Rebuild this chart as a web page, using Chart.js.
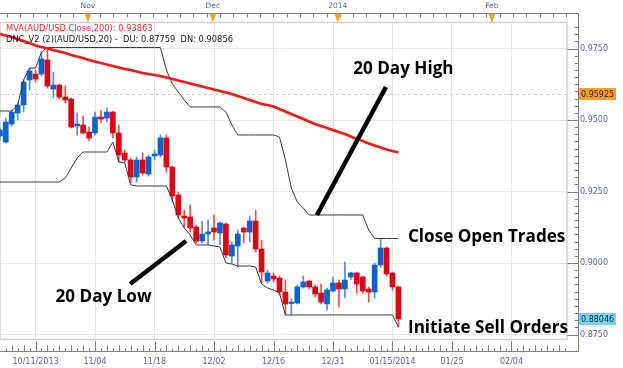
<!DOCTYPE html>
<html>
<head>
<meta charset="utf-8">
<script src="https://cdn.jsdelivr.net/npm/chart.js@4.4.1/dist/chart.umd.min.js"></script>
<style>
  html, body { margin: 0; padding: 0; background: #fff; }
  canvas { display: block; }
</style>
</head>
<body>
<canvas id="chart" width="623" height="368"></canvas>
<script>
// AUD/USD daily candles, Oct 2013 - Jan 2014. Index 0 sits on the "10/11/2013" gridline,
// the first candle (index -6) is cut by the left edge.
const firstIdx = -6;

const open = [
  0.94441, 0.94231, 0.94860, 0.95245, 0.95525, 0.96399, 0.96609, 0.96609, 0.97098, 0.96084,
  0.96224, 0.95804, 0.95735, 0.94790, 0.94825, 0.94581, 0.94546, 0.95105, 0.95070, 0.95280,
  0.94546, 0.93846, 0.93602, 0.93007, 0.93602, 0.93112, 0.93742, 0.93776, 0.94371, 0.93357,
  0.92378, 0.91644, 0.91609, 0.91259, 0.90769, 0.91014, 0.91224, 0.91049, 0.91364, 0.90245,
  0.90595, 0.91224, 0.91084, 0.91469, 0.90490, 0.89371, 0.89546, 0.89476, 0.88986, 0.88584,
  0.88602, 0.89161, 0.89371, 0.89161, 0.88951, 0.88567, 0.89021, 0.89301, 0.89091, 0.89511,
  0.89651, 0.89511, 0.89091, 0.88986, 0.89930, 0.90525, 0.89651, 0.89161
];
const high = [
  0.94755, 0.95070, 0.95350, 0.95595, 0.96399, 0.96818, 0.96748, 0.97378, 0.97535, 0.96678,
  0.96259, 0.96189, 0.95769, 0.95245, 0.95140, 0.94755, 0.95280, 0.95350, 0.95420, 0.95315,
  0.94825, 0.93951, 0.93672, 0.93707, 0.93846, 0.93776, 0.93951, 0.94476, 0.94476, 0.93380,
  0.92483, 0.91853, 0.92028, 0.91329, 0.91469, 0.91504, 0.91679, 0.91434, 0.91399, 0.90735,
  0.91154, 0.91259, 0.91644, 0.91853, 0.90804, 0.89755, 0.89651, 0.89546, 0.89406, 0.88742,
  0.89231, 0.89546, 0.89406, 0.89231, 0.89266, 0.89126, 0.89511, 0.89406, 0.90035, 0.89686,
  0.89686, 0.89546, 0.89161, 0.90000, 0.90856, 0.90560, 0.89686, 0.89196
];
const low = [
  0.94301, 0.94196, 0.94790, 0.95000, 0.95280, 0.96049, 0.96329, 0.96539, 0.96119, 0.95769,
  0.95735, 0.95595, 0.94720, 0.94476, 0.94511, 0.94266, 0.94476, 0.94895, 0.94930, 0.94371,
  0.93532, 0.93532, 0.92797, 0.92832, 0.93077, 0.93042, 0.93602, 0.93707, 0.93182, 0.92133,
  0.91574, 0.91259, 0.91084, 0.90700, 0.90700, 0.90630, 0.90804, 0.90630, 0.90175, 0.90000,
  0.89860, 0.90700, 0.90735, 0.90385, 0.89301, 0.89301, 0.89336, 0.88881, 0.88182, 0.88182,
  0.88567, 0.89126, 0.89091, 0.88811, 0.88567, 0.88357, 0.88986, 0.88462, 0.88776, 0.89406,
  0.88951, 0.88951, 0.88637, 0.88776, 0.89860, 0.89546, 0.89056, 0.87759
];
const close = [
  0.94651, 0.94930, 0.95280, 0.95525, 0.96329, 0.96713, 0.96434, 0.97133, 0.96189, 0.96224,
  0.95804, 0.95700, 0.94755, 0.94860, 0.94546, 0.94371, 0.95105, 0.95035, 0.95280, 0.94546,
  0.93776, 0.93602, 0.93007, 0.93602, 0.93147, 0.93707, 0.93811, 0.94371, 0.93357, 0.92343,
  0.91679, 0.91574, 0.91224, 0.90769, 0.91014, 0.91084, 0.91084, 0.91399, 0.90280, 0.90630,
  0.91014, 0.91084, 0.91469, 0.90490, 0.89686, 0.89651, 0.89441, 0.88986, 0.88567, 0.88637,
  0.89161, 0.89336, 0.89161, 0.88916, 0.88637, 0.89056, 0.89301, 0.89091, 0.89406, 0.89651,
  0.89266, 0.89021, 0.88986, 0.89930, 0.90525, 0.89616, 0.89161, 0.88046
];

// MVA(200) and Donchian channel (20)
const mva = [
  0.98007, 0.97955, 0.97902, 0.97832, 0.97762, 0.97693, 0.97605, 0.97553, 0.97500, 0.97448,
  0.97395, 0.97343, 0.97273, 0.97220, 0.97168, 0.97098, 0.97046, 0.96993, 0.96941, 0.96888,
  0.96836, 0.96783, 0.96748, 0.96696, 0.96644, 0.96609, 0.96574, 0.96539, 0.96486, 0.96434,
  0.96381, 0.96329, 0.96276, 0.96224, 0.96172, 0.96119, 0.96067, 0.96014, 0.95962, 0.95909,
  0.95839, 0.95769, 0.95700, 0.95630, 0.95560, 0.95525, 0.95472, 0.95385, 0.95297, 0.95210,
  0.95123, 0.95035, 0.94948, 0.94860, 0.94790, 0.94720, 0.94651, 0.94581, 0.94511, 0.94423,
  0.94336, 0.94266, 0.94179, 0.94109, 0.94039, 0.93969, 0.93916, 0.93863
];
const dncUpper = [
  0.95315, 0.95315, 0.95315, 0.95525, 0.96399, 0.96818, 0.96818, 0.97378, 0.97535, 0.97535,
  0.97535, 0.97535, 0.97535, 0.97535, 0.97535, 0.97535, 0.97535, 0.97535, 0.97535, 0.97535,
  0.97535, 0.97535, 0.97535, 0.97535, 0.97535, 0.97535, 0.97535, 0.97535, 0.96748, 0.96259,
  0.95979, 0.95700, 0.95455, 0.95455, 0.95455, 0.95455, 0.95455, 0.95455, 0.95280, 0.94825,
  0.94476, 0.94476, 0.94476, 0.94476, 0.94476, 0.94476, 0.94476, 0.94406, 0.93602, 0.92623,
  0.92133, 0.91923, 0.91679, 0.91679, 0.91679, 0.91679, 0.91679, 0.91679, 0.91679, 0.91679,
  0.91679, 0.91679, 0.91154, 0.90856, 0.90856, 0.90856, 0.90856, 0.90856
];
const dncLower = [
  0.92832, 0.92832, 0.92832, 0.92832, 0.92832, 0.92832, 0.92832, 0.92832, 0.92832, 0.92832,
  0.92832, 0.92972, 0.93322, 0.93672, 0.93881, 0.93881, 0.93881, 0.93881, 0.93881, 0.94231,
  0.93532, 0.93497, 0.92728, 0.92693, 0.92693, 0.92693, 0.92693, 0.92693, 0.92693, 0.92203,
  0.91574, 0.91224, 0.90979, 0.90630, 0.90630, 0.90630, 0.90595, 0.90560, 0.90000, 0.89965,
  0.89895, 0.89895, 0.89895, 0.89860, 0.89266, 0.89126, 0.89056, 0.88951, 0.88182, 0.88182,
  0.88182, 0.88182, 0.88182, 0.88182, 0.88182, 0.88182, 0.88182, 0.88182, 0.88182, 0.88182,
  0.88182, 0.88182, 0.88182, 0.88182, 0.88182, 0.88182, 0.88182, 0.87759
];

const xTickIdx = [0, 10, 20, 30, 40, 50, 60, 70, 80];
const xTickLabels = ['10/11/2013', '11/04', '11/18', '12/02', '12/16', '12/31', '01/15/2014', '01/25', '02/04'];
const monthIdx = [8.8, 29.8, 50.8, 76.7];
const monthLabels = ['Nov', 'Dec', '2014', 'Feb'];
const yTicks = [0.875, 0.9, 0.925, 0.95, 0.975];
const markerLevel = 0.95925;
const lastClose = 0.88046;

const legendMva = 'MVA(AUD/USD.Close,200): 0.93863';
const legendDnc = 'DNC_V2 (2)(AUD/USD,20) -  DU: 0.87759  DN: 0.90856';

// annotations, anchored in data units (candle index, price)
const notes = [
  { text: '20 Day High', x: 53.4, y: 0.96626, align: 'left' },
  { text: 'Close Open Trades', x: 62.6, y: 0.90735, align: 'left' },
  { text: 'Initiate Sell Orders', x: 62.6, y: 0.87553, align: 'left' },
  { text: '20 Day Low', x: 19.5, y: 0.88637, align: 'right' }
];
const pointers = [
  { from: [47.3, 0.91679], to: [58.9, 0.96154] },
  { from: [15.9, 0.89266], to: [25.3, 0.90769] }
];

const BLUE = '#0b62d0', RED = '#e3000f';
const BLUE_WICK = '#4d8fe0', RED_WICK = '#ef4b4b';
const AXIS_TEXT = '#5c5f9e';

const idx = open.map((_, i) => i + firstIdx);
const up = close.map((c, i) => c >= open[i]);

// keep the plot flush with the canvas edges: no label overflow padding
const noPad = s => { s.paddingLeft = 0; s.paddingRight = 0; s.paddingTop = 0; s.paddingBottom = 0; };

const decor = {
  id: 'decor',
  beforeDraw(chart) {
    const ctx = chart.ctx;
    ctx.save();
    ctx.fillStyle = '#fff';
    ctx.fillRect(0, 0, chart.width, chart.height);
    ctx.restore();
  },
  beforeDatasetsDraw(chart) {
    const { ctx, chartArea: a, scales: { y } } = chart;
    ctx.save();
    // frame around the plot
    ctx.strokeStyle = '#d2d2d2';
    ctx.lineWidth = 1.5;
    ctx.strokeRect(a.left, a.top + 0.5, a.right - a.left, a.bottom - a.top);
    // dashed level line
    const py = Math.round(y.getPixelForValue(markerLevel)) + 0.5;
    ctx.strokeStyle = '#cccccc';
    ctx.lineWidth = 1;
    ctx.setLineDash([3, 3]);
    ctx.beginPath();
    ctx.moveTo(a.left, py);
    ctx.lineTo(a.right, py);
    ctx.stroke();
    ctx.restore();
  },
  afterDraw(chart) {
    const { ctx, chartArea: a, scales: { x, y, xTop } } = chart;
    const axisX = a.right + 11.5, axisBottom = a.bottom + 12.5, axisTop = a.top - 8.5;
    ctx.save();
    ctx.strokeStyle = '#7d7d7d';
    ctx.lineWidth = 1;

    // axis lines
    ctx.beginPath();
    ctx.moveTo(0, axisTop); ctx.lineTo(axisX, axisTop);
    ctx.moveTo(0, axisBottom); ctx.lineTo(axisX, axisBottom);
    ctx.moveTo(axisX, axisTop); ctx.lineTo(axisX, axisBottom);
    ctx.stroke();

    // bottom ticks, one per candle
    ctx.beginPath();
    for (let v = Math.ceil(x.min); v <= x.max; v++) {
      const px = Math.round(x.getPixelForValue(v)) + 0.5;
      const len = v % 10 === 0 ? 10 : (v % 2 === 0 ? 6 : 3);
      ctx.moveTo(px, axisBottom);
      ctx.lineTo(px, axisBottom - len);
    }
    // right ticks every 0.0025
    for (let k = Math.ceil(y.min / 0.0025); k * 0.0025 <= y.max; k++) {
      const py = Math.round(y.getPixelForValue(k * 0.0025)) + 0.5;
      const len = k % 10 === 0 ? 11 : 4;
      ctx.moveTo(axisX, py);
      ctx.lineTo(axisX - len, py);
    }
    // top ticks
    for (let v = -4.85; v <= xTop.max; v += 2.24) {
      const px = Math.round(xTop.getPixelForValue(v)) + 0.5;
      ctx.moveTo(px, axisTop);
      ctx.lineTo(px, axisTop + 4);
    }
    ctx.stroke();

    // month markers
    ctx.fillStyle = '#f5a31a';
    monthIdx.forEach(m => {
      const px = xTop.getPixelForValue(m);
      ctx.beginPath();
      ctx.moveTo(px - 3.5, axisTop);
      ctx.lineTo(px + 3.5, axisTop);
      ctx.lineTo(px, axisTop + 9);
      ctx.closePath();
      ctx.fill();
    });

    // price tags on the right axis
    const tag = (val, fill) => {
      const py = y.getPixelForValue(val);
      ctx.fillStyle = fill;
      ctx.fillRect(axisX + 0.5, Math.round(py) - 6, 37, 12);
      ctx.fillStyle = '#222';
      ctx.font = '8px "DejaVu Sans"';
      ctx.textBaseline = 'middle';
      ctx.textAlign = 'left';
      ctx.fillText(val.toFixed(5), axisX + 2.5, Math.round(py) + 0.5);
    };
    tag(markerLevel, '#f7a11a');
    tag(lastClose, '#74d2f7');

    // indicator legend
    ctx.font = '8.3px "DejaVu Sans"';
    ctx.textBaseline = 'middle';
    ctx.fillStyle = '#ff2a2a';
    ctx.fillText(legendMva, 6, 28.5);
    ctx.fillStyle = '#1a1a1a';
    ctx.fillText(legendDnc, 6, 40);

    // pointer lines
    ctx.strokeStyle = '#000';
    ctx.lineWidth = 4.5;
    pointers.forEach(p => {
      ctx.beginPath();
      ctx.moveTo(x.getPixelForValue(p.from[0]), y.getPixelForValue(p.from[1]));
      ctx.lineTo(x.getPixelForValue(p.to[0]), y.getPixelForValue(p.to[1]));
      ctx.stroke();
    });

    // annotation texts, sized so "Close Open Trades" spans about 157px
    ctx.font = 'bold 16px "Open Sans"';
    const size = 16 * 157 / ctx.measureText('Close Open Trades').width;
    ctx.font = `bold ${size.toFixed(1)}px "Open Sans"`;
    ctx.fillStyle = '#000';
    ctx.textBaseline = 'alphabetic';
    notes.forEach(n => {
      ctx.textAlign = n.align;
      ctx.fillText(n.text, x.getPixelForValue(n.x), y.getPixelForValue(n.y));
    });
    ctx.restore();
  }
};

const xMin = -5.97, xMax = 89.33;

new Chart(document.getElementById('chart'), {
  type: 'bar',
  data: {
    datasets: [
      {
        type: 'line', label: 'MVA 200',
        data: idx.map((v, i) => ({ x: v, y: mva[i] })),
        borderColor: '#ff1414', borderWidth: 2.6, pointRadius: 0, tension: 0, order: 0
      },
      {
        type: 'line', label: 'DNC upper',
        data: idx.map((v, i) => ({ x: v, y: dncUpper[i] })),
        borderColor: '#3a3a3a', borderWidth: 1, pointRadius: 0, tension: 0, order: 1
      },
      {
        type: 'line', label: 'DNC lower',
        data: idx.map((v, i) => ({ x: v, y: dncLower[i] })),
        borderColor: '#3a3a3a', borderWidth: 1, pointRadius: 0, tension: 0, order: 1
      },
      {
        label: 'wick',
        data: idx.map((v, i) => ({ x: v, y: [low[i], high[i]] })),
        backgroundColor: up.map(u => u ? BLUE_WICK : RED_WICK),
        barThickness: 1, grouped: false, order: 3
      },
      {
        label: 'body',
        data: idx.map((v, i) => ({ x: v, y: [open[i], close[i]] })),
        backgroundColor: up.map(u => u ? BLUE : RED),
        barThickness: 5, minBarLength: 1.5, grouped: false, order: 2
      }
    ]
  },
  options: {
    responsive: false,
    animation: false,
    layout: { padding: 0 },
    plugins: { legend: { display: false }, tooltip: { enabled: false } },
    scales: {
      x: {
        type: 'linear', position: 'bottom', min: xMin, max: xMax, offset: false,
        afterBuildTicks: s => { s.ticks = xTickIdx.map(v => ({ value: v })); },
        afterFit: s => { s.height = 29; noPad(s); },
        grid: { color: '#e6e6e6', drawTicks: false, offset: false },
        border: { display: false },
        ticks: {
          autoSkip: false, maxRotation: 0, padding: 18, color: AXIS_TEXT,
          font: { family: 'DejaVu Sans', size: 8 },
          callback: v => xTickLabels[xTickIdx.indexOf(v)]
        }
      },
      xTop: {
        type: 'linear', position: 'top', min: xMin, max: xMax, offset: false,
        afterBuildTicks: s => { s.ticks = monthIdx.map(v => ({ value: v })); },
        afterFit: s => { s.height = 22; noPad(s); },
        grid: { display: false, drawTicks: false },
        border: { display: false },
        ticks: {
          autoSkip: false, maxRotation: 0, padding: 11, color: AXIS_TEXT,
          font: { family: 'DejaVu Sans', size: 7.5 },
          callback: v => monthLabels[monthIdx.indexOf(v)]
        }
      },
      y: {
        position: 'right', min: 0.87343, max: 0.98427,
        afterBuildTicks: s => { s.ticks = yTicks.map(v => ({ value: v })); },
        afterFit: s => { s.width = 56; noPad(s); },
        grid: { color: '#e6e6e6', drawTicks: false },
        border: { display: false },
        ticks: {
          padding: 13, color: AXIS_TEXT,
          font: { family: 'DejaVu Sans', size: 8 },
          callback: v => v.toFixed(4)
        }
      }
    }
  },
  plugins: [decor]
});
</script>
</body>
</html>
